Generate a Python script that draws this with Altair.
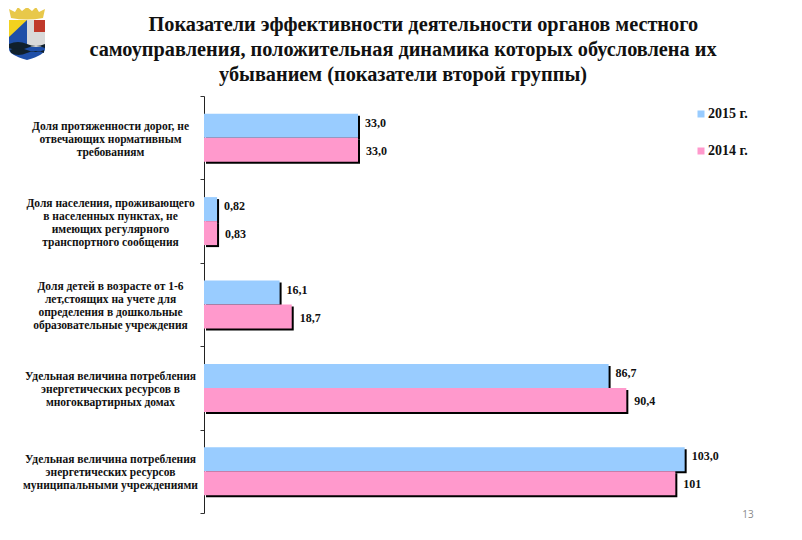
import base64
import altair as alt
import pandas as pd

categories = [
    "Доля протяженности дорог, не|отвечающих нормативным|требованиям",
    "Доля населения, проживающего|в населенных пунктах, не|имеющих регулярного|транспортного сообщения",
    "Доля детей в возрасте от 1-6|лет,стоящих на учете для|определения в дошкольные|образовательные учреждения",
    "Удельная величина потребления|энергетических ресурсов в|многоквартирных домах",
    "Удельная величина потребления|энергетических ресурсов|муниципальными учреждениями",
]
series = ["2015 г.", "2014 г."]
bars_2015 = [33.0, 2.8, 16.2, 86.7, 103.0]
bars_2014 = [33.0, 2.8, 18.8, 90.5, 101.0]
labels_2015 = ["33,0", "0,82", "16,1", "86,7", "103,0"]
labels_2014 = ["33,0", "0,83", "18,7", "90,4", "101"]
title_lines = [
    "\u200b" + "\u00a0" * 8 + "Показатели эффективности деятельности органов местного",
    "самоуправления, положительная динамика которых обусловлена их",
    "убыванием (показатели второй группы)",
]
colors = ["#99CCFF", "#FF99CC"]
SERIF = "Liberation Serif"

d15 = pd.DataFrame({"cat": categories, "series": series[0], "v": bars_2015, "lab": labels_2015})
d14 = pd.DataFrame({"cat": categories, "series": series[1], "v": bars_2014, "lab": labels_2014})

crest = """<svg xmlns='http://www.w3.org/2000/svg' viewBox='0 0 38 54'>
<path d='M3 11 L1 2 L7 5 L10 0 L14 4 L19 0 L24 4 L28 0 L31 5 L37 2 L35 11 Q19 14 3 11Z' fill='#e8c84a'/>
<path d='M1 13 H37 V42 Q37 48 19 53 Q1 48 1 42Z' fill='#1f4fa8'/>
<path d='M19 13 H37 V40 H19Z' fill='#d9d9d9'/>
<path d='M26 13 H37 V25 H26Z' fill='#c0392b'/>
<path d='M1 13 H19 L1 30Z' fill='#f2d21f'/>
<path d='M1 37 Q10 33 19 37 T37 37 V41 Q28 37 19 41 T1 41Z' fill='#10202c'/>
<path d='M2 43 Q10 39 19 43 T36 43 V46 Q28 42 19 46 T3 46Z' fill='#10202c'/>
</svg>"""
crest_url = "data:image/svg+xml;base64," + base64.b64encode(crest.encode()).decode()

y = alt.Y(
    "cat:N",
    sort=categories,
    title=None,
    scale=alt.Scale(domain=categories, paddingInner=0, paddingOuter=0),
    axis=alt.Axis(
        labelExpr="split(datum.label, '|')",
        labelAlign="center",
        labelBaseline="middle",
        labelPadding=90,
        labelOffset={"expr": "1.5 - (length(split(datum.label, '|')) - 1) * 6.5"},
        labelFont=SERIF,
        labelFontWeight="bold",
        labelFontSize=11.5,
        labelLineHeight=13,
        labelColor="#111111",
        labelLimit=0,
        tickBand="extent",
        tickSize=4,
        tickColor="#333333",
        domainColor="#222222",
        grid=False,
    ),
)
x = alt.X("v:Q", axis=None, scale=alt.Scale(domain=[0, 120], nice=False))
color = alt.Color(
    "series:N",
    scale=alt.Scale(domain=series, range=colors),
    sort=series,
    legend=alt.Legend(
        title=None,
        orient="none",
        legendX=490,
        legendY=11,
        symbolType="square",
        symbolSize=49,
        symbolStrokeWidth=0,
        labelFont=SERIF,
        labelFontWeight="bold",
        labelFontSize=14,
        labelColor="#111111",
        labelOffset=0,
        rowPadding=23,
    ),
)


def bar(df, off, shadow=False):
    kw = dict(size=24, yOffset=off + (2 if shadow else 0), xOffset=2 if shadow else 0)
    if shadow:
        return alt.Chart(df).mark_bar(color="#000000", **kw).encode(x=x, y=y)
    return alt.Chart(df).mark_bar(**kw).encode(x=x, y=y, color=color)


def text(df, dx, dy):
    return (
        alt.Chart(df)
        .mark_text(align="left", baseline="middle", dx=dx, dy=dy, font=SERIF,
                   fontWeight="bold", fontSize=12, color="#111111")
        .encode(x=x, y=y, text="lab:N")
    )


logo = alt.Chart(pd.DataFrame({"u": [crest_url]})).mark_image(width=40, height=54).encode(
    url="u:N", x=alt.value(-177), y=alt.value(-62)
)
page = alt.Chart(pd.DataFrame({"t": ["13"]})).mark_text(
    font="Open Sans", fontSize=10, color="#8a8a8a", align="center"
).encode(text="t:N", x=alt.value(544), y=alt.value(419))

chart = (
    alt.layer(
        bar(d15, -12, shadow=True),
        bar(d15, -12),
        bar(d14, 12, shadow=True),
        bar(d14, 12),
        text(d15, 7, -15),
        text(d14, 8, 13),
        logo,
        page,
    )
    .resolve_scale(y="shared", x="shared")
    .properties(
        width=560,
        height=417,
        autosize=alt.AutoSizeParams(type="none"),
        padding={"left": 196, "top": 88, "right": 30, "bottom": 16},
        title=alt.TitleParams(
            text=title_lines,
            font=SERIF,
            fontWeight="bold",
            fontSize=20.3,
            lineHeight=25,
            color="#111111",
            anchor="middle",
            dx=-81,
            offset=4,
            dy=82,
        ),
    )
    .configure_view(stroke=None)
)
chart.save("out.html", embed_options={"renderer": "svg", "actions": False})
